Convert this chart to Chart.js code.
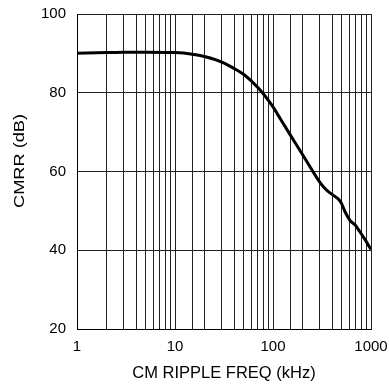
<!DOCTYPE html>
<html>
<head>
<meta charset="utf-8">
<script src="https://cdn.jsdelivr.net/npm/chart.js@4/dist/chart.umd.min.js"></script>
<style>
  html, body { margin: 0; padding: 0; background: #fff; }
  #wrap { width: 389px; height: 387px; }
</style>
</head>
<body>
<div id="wrap"><canvas id="myChart"></canvas></div>
<script>
// CMRR vs common-mode ripple frequency
const freqKHz = [1, 2, 3, 5, 10, 15, 20, 30, 40, 50, 60, 80, 100, 120, 150, 200, 250, 300, 330, 370, 410, 460, 500, 540, 610, 690, 770, 870, 1000];
const cmrrDB = [90.0, 90.2, 90.3, 90.3, 90.2, 89.8, 89.2, 87.8, 86.2, 84.7, 83.0, 79.7, 76.4, 73.2, 69.3, 64.3, 60.4, 57.3, 56.0, 54.8, 54.0, 53.1, 51.9, 49.9, 47.6, 46.4, 44.7, 42.7, 40.2];
const yTicks = [20, 40, 60, 80, 100];
const xLabels = [1, 10, 100, 1000];
const xTitle = "CM RIPPLE FREQ (kHz)";
const yTitle = "CMRR (dB)";

const family = "'Liberation Sans', Arial, sans-serif";
const tickFont = { family: family, size: 15 };

const points = freqKHz.map((f, i) => ({ x: f, y: cmrrDB[i] }));

// the y title in the original is stretched along its length, so draw it by hand
const yTitlePlugin = {
  id: "yTitle",
  afterDraw(chart) {
    const ctx = chart.ctx;
    ctx.save();
    ctx.translate(20, 161);
    ctx.rotate(-Math.PI / 2);
    ctx.scale(1.3, 1);
    ctx.font = "14px " + family;
    ctx.fillStyle = "#000";
    ctx.textAlign = "center";
    ctx.textBaseline = "middle";
    ctx.fillText(yTitle, 0, 0);
    ctx.restore();
  },
};

new Chart(document.getElementById("myChart").getContext("2d"), {
  type: "line",
  data: {
    datasets: [
      {
        data: points,
        borderColor: "#000",
        borderWidth: 3,
        pointRadius: 0,
        cubicInterpolationMode: "monotone",
        fill: false,
      },
    ],
  },
  options: {
    responsive: true,
    maintainAspectRatio: false,
    animation: false,
    layout: { padding: { top: 14, right: 18, left: 0, bottom: 0 } },
    plugins: { legend: { display: false }, tooltip: { enabled: false } },
    scales: {
      x: {
        type: "logarithmic",
        min: 1,
        max: 1000,
        afterFit: (scale) => {
          scale.height = 58;
          scale.paddingLeft = 0;
          scale.paddingRight = 0;
        },
        grid: { color: "#222", lineWidth: 1, drawTicks: false },
        border: { color: "#000", width: 1 },
        ticks: {
          autoSkip: false,
          maxRotation: 0,
          padding: 9,
          color: "#000",
          font: tickFont,
          callback: (v) => (xLabels.includes(v) ? String(v) : ""),
        },
        title: {
          display: true,
          text: xTitle,
          color: "#000",
          font: { family: family, size: 16.5 },
          padding: { top: 0, bottom: 4 },
        },
      },
      y: {
        min: 20,
        max: 100,
        afterFit: (scale) => {
          scale.width = 77;
          scale.paddingTop = 0;
          scale.paddingBottom = 0;
        },
        afterBuildTicks: (scale) => { scale.ticks = yTicks.map((v) => ({ value: v })); },
        grid: { color: "#222", lineWidth: 1, drawTicks: false },
        border: { color: "#000", width: 1 },
        ticks: { padding: 11, color: "#000", font: tickFont },
      },
    },
  },
  plugins: [yTitlePlugin],
});
</script>
</body>
</html>
